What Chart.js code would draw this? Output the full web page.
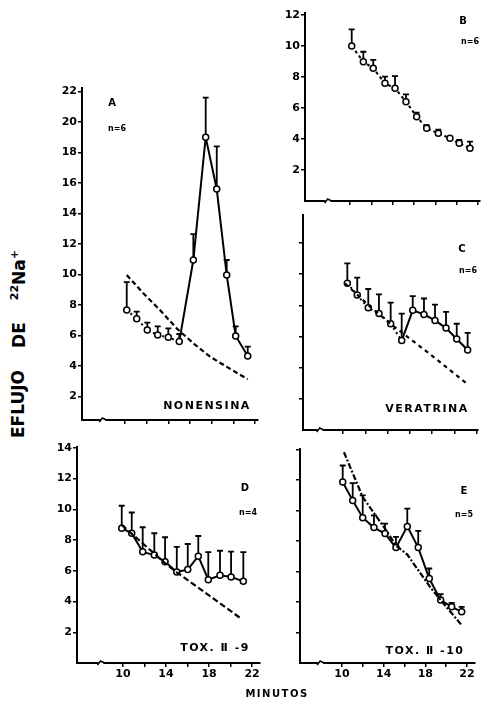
<!DOCTYPE html>
<html>
<head>
<meta charset="utf-8">
<script src="https://cdn.jsdelivr.net/npm/chart.js@4.4.1/dist/chart.umd.min.js"></script>
<style>
  body { margin: 0; background: #fff; }
  #wrap { position: relative; width: 486px; height: 701px; overflow: hidden; background: #fff; }
  canvas { position: absolute; }
  .lbl { position: absolute; font-family: "DejaVu Sans", sans-serif; font-weight: bold; color: #000;
         transform: translate(-50%, -50%); white-space: nowrap; }
  .big { font-size: 11px; letter-spacing: 1.5px; }
  .small { font-size: 8px; }
  #ytitle { position: absolute; left: 18px; top: 344px; transform: translate(-50%, -50%) rotate(-90deg);
            font-family: "DejaVu Sans", sans-serif; font-weight: bold; font-size: 17px; white-space: nowrap; }
  #ytitle sup { font-size: 11px; }
</style>
</head>
<body>
<div id="wrap">
  <canvas id="cA"></canvas>
  <canvas id="cB"></canvas>
  <canvas id="cC"></canvas>
  <canvas id="cD"></canvas>
  <canvas id="cE"></canvas>

  <div class="lbl" style="left:112px;top:102px;font-size:10px">A</div>
  <div class="lbl small" style="left:117px;top:128px">n=6</div>
  <div class="lbl big" style="left:207px;top:405px">NONENSINA</div>

  <div class="lbl" style="left:463px;top:20px;font-size:10px">B</div>
  <div class="lbl small" style="left:470px;top:41px">n=6</div>

  <div class="lbl" style="left:462px;top:248px;font-size:10px">C</div>
  <div class="lbl small" style="left:468px;top:270px">n=6</div>
  <div class="lbl big" style="left:427px;top:408px">VERATRINA</div>

  <div class="lbl" style="left:245px;top:487px;font-size:10px">D</div>
  <div class="lbl small" style="left:248px;top:512px">n=4</div>
  <div class="lbl big" style="left:215px;top:647px">TOX. &#8545; -9</div>

  <div class="lbl" style="left:464px;top:490px;font-size:10px">E</div>
  <div class="lbl small" style="left:464px;top:514px">n=5</div>
  <div class="lbl big" style="left:425px;top:650px">TOX. &#8545; -10</div>

  <div class="lbl big" style="left:277px;top:693px;font-size:10px">MINUTOS</div>
  <div id="ytitle"><span>EFLUJO</span><span style="margin-left:22px">DE</span><span style="margin-left:22px"><sup>22</sup>Na<sup>+</sup></span></div>
</div>
<script>
// tick labels shown under the bottom panels
const xTickLabels = [10, 14, 18, 22];

// A - monensina
const minutesA = [10.16, 11.08, 12.06, 13.02, 14.0, 15.01, 16.31, 17.45, 18.47, 19.39, 20.22, 21.33];
const effluxA = [7.67, 7.1, 6.36, 6.03, 5.88, 5.6, 10.95, 19.0, 15.6, 9.97, 5.97, 4.66];
const errTopA = [9.5, 7.56, 6.84, 6.6, 6.47, 6.1, 12.65, 21.6, 18.4, 10.95, 6.6, 5.27];
const controlMinA = [10.16, 11.69, 13.23, 14.77, 16.31, 17.85, 19.39, 21.33];
const controlA = [9.97, 8.77, 7.67, 6.47, 5.49, 4.61, 3.95, 3.13];

// B - control
const minutesB = [10.16, 11.25, 12.18, 13.28, 14.22, 15.25, 16.25, 17.19, 18.28, 19.37, 20.24, 21.25];
const effluxB = [10.0, 8.99, 8.56, 7.59, 7.27, 6.41, 5.44, 4.69, 4.37, 4.05, 3.72, 3.4];
const errTopB = [11.07, 9.63, 9.1, 8.02, 8.06, 6.88, 5.7, 4.9, 4.6, 4.2, 3.95, 3.83];

// C - veratrina
const minutesC = [10.39, 11.28, 12.27, 13.23, 14.28, 15.27, 16.26, 17.27, 18.26, 19.25, 20.21, 21.19];
const effluxC = [9.42, 8.66, 7.84, 7.47, 6.82, 5.74, 7.68, 7.42, 7.03, 6.54, 5.84, 5.13];
const errTopC = [10.7, 9.78, 9.05, 8.7, 8.18, 7.47, 8.59, 8.44, 8.05, 7.58, 6.82, 6.23];
const controlMinC = [10.2, 12.3, 14.3, 16.3, 18.3, 21.25];
const controlC = [9.4, 8.0, 6.8, 5.7, 4.6, 2.9];

// D - tox. II-9
const minutesD = [9.88, 10.81, 11.83, 12.91, 13.91, 15.0, 16.02, 17.0, 17.93, 19.02, 20.05, 21.19];
const effluxD = [8.77, 8.44, 7.23, 7.02, 6.58, 5.92, 6.08, 6.95, 5.42, 5.7, 5.6, 5.31];
const errTopD = [10.23, 9.79, 8.83, 8.44, 8.18, 7.56, 7.74, 8.26, 7.21, 7.3, 7.24, 7.21];
const controlMinD = [9.88, 13.91, 15.0, 21.04];
const controlD = [8.98, 6.5, 5.9, 2.86];

// E - tox. II-10
const minutesE = [10.07, 11.03, 11.99, 13.07, 14.13, 15.18, 16.27, 17.32, 18.38, 19.47, 20.53, 21.49];
const effluxE = [11.85, 10.65, 9.52, 8.87, 8.48, 7.56, 8.95, 7.56, 5.53, 4.12, 3.68, 3.35];
const errTopE = [12.94, 11.79, 10.98, 9.67, 9.13, 8.26, 10.11, 8.65, 6.19, 4.51, 3.94, 3.68];
const controlMinE = [10.19, 11.99, 14.13, 15.18, 16.27, 18.45, 19.47, 21.49];
const controlE = [13.81, 10.87, 8.8, 7.7, 7.1, 4.99, 4.12, 2.48];

const pts = (xs, ys) => xs.map((x, i) => ({ x: x, y: ys[i] }));

const errorBars = {
  id: 'errorBars',
  beforeDatasetsDraw(chart) {
    const ctx = chart.ctx;
    const ys = chart.scales.y;
    chart.data.datasets.forEach((ds, i) => {
      if (!ds.errTop) return;
      const meta = chart.getDatasetMeta(i);
      ctx.save();
      ctx.strokeStyle = '#000';
      ctx.lineWidth = 1.8;
      meta.data.forEach((pt, j) => {
        const top = ds.errTop[j];
        if (top == null || top <= ds.data[j].y + 0.15) return;
        const yt = ys.getPixelForValue(top);
        ctx.beginPath();
        ctx.moveTo(pt.x, pt.y);
        ctx.lineTo(pt.x, yt);
        ctx.moveTo(pt.x - 3, yt);
        ctx.lineTo(pt.x + 3, yt);
        ctx.stroke();
      });
      ctx.restore();
    });
  }
};

const axisBreak = {
  id: 'axisBreak',
  afterDraw(chart) {
    const ctx = chart.ctx;
    const px = chart.scales.x.getPixelForValue(8);
    const y = chart.chartArea.bottom;
    ctx.save();
    ctx.fillStyle = '#fff';
    ctx.fillRect(px - 3, y - 3, 5, 6);
    ctx.strokeStyle = '#000';
    ctx.lineWidth = 1.5;
    ctx.beginPath();
    ctx.moveTo(px - 4, y + 2);
    ctx.lineTo(px - 1, y - 2);
    ctx.lineTo(px + 3, y);
    ctx.stroke();
    ctx.restore();
  }
};

function makePanel(id, box, xr, yr, showY, showX, datasets) {
  const c = document.getElementById(id);
  const padL = 34, padT = 8, padR = 8, xh = 22;
  c.width = box.R - box.L + padL + padR;
  c.height = box.B - box.T + padT + xh;
  c.style.left = (box.L - padL) + 'px';
  c.style.top = (box.T - padT) + 'px';
  const font = { family: 'DejaVu Sans', weight: 'bold', size: 11 };
  return new Chart(c.getContext('2d'), {
    type: 'line',
    data: { datasets: datasets },
    options: {
      responsive: false,
      animation: false,
      devicePixelRatio: 1,
      layout: { autoPadding: false, padding: { top: padT, right: padR, left: 0, bottom: 0 } },
      plugins: { legend: { display: false }, tooltip: { enabled: false } },
      scales: {
        x: {
          type: 'linear',
          min: xr[0], max: xr[1],
          afterFit: s => { s.height = xh; },
          afterBuildTicks: s => { s.ticks = s.ticks.filter(t => t.value >= 10); },
          grid: { drawOnChartArea: false, color: '#000', lineWidth: 1.5, tickLength: 4 },
          border: { color: '#000', width: 2 },
          ticks: {
            stepSize: 2, includeBounds: false, maxRotation: 0, autoSkip: false,
            color: '#000', font: font, padding: 1,
            callback: v => (showX && xTickLabels.includes(v)) ? String(v) : ''
          }
        },
        y: {
          min: yr[0], max: yr[1],
          afterFit: s => { s.width = padL; },
          afterBuildTicks: s => { s.ticks = s.ticks.filter(t => t.value > 0.5); },
          grid: { drawOnChartArea: false, color: '#000', lineWidth: 1.5, tickLength: 4 },
          border: { color: '#000', width: 2 },
          ticks: {
            stepSize: 2, includeBounds: false, autoSkip: false,
            color: '#000', font: font, padding: 1,
            callback: v => showY ? String(v) : ''
          }
        }
      }
    },
    plugins: [errorBars, axisBreak]
  });
}

const markerStyle = {
  borderColor: '#000', borderWidth: 2,
  pointRadius: 3, pointBorderWidth: 1.5,
  pointBackgroundColor: '#fff', pointBorderColor: '#000'
};
const controlStyle = (dash) => ({
  borderColor: '#000', borderWidth: 2.2, borderDash: dash, pointRadius: 0
});
const dotFirst = (n) => ({ borderDash: ctx => ctx.p1DataIndex < n ? [2, 3] : undefined });

makePanel('cA', { L: 82, R: 258, T: 88, B: 420 }, [6.03, 22.28], [0.46, 22.23], true, false, [
  Object.assign({ data: pts(controlMinA, controlA) }, controlStyle([5, 3])),
  Object.assign({ data: pts(minutesA, effluxA), errTop: errTopA, segment: dotFirst(6) }, markerStyle)
]);

makePanel('cB', { L: 305, R: 480, T: 13, B: 201 }, [5.78, 22.19], [0, 12.13], true, false, [
  Object.assign({ data: pts(minutesB, effluxB), errTop: errTopB }, markerStyle, { borderDash: [3, 3] })
]);

makePanel('cC', { L: 303, R: 478, T: 215, B: 430 }, [6.41, 22.12], [0, 13.8], false, false, [
  Object.assign({ data: pts(controlMinC, controlC) }, controlStyle([4, 4])),
  Object.assign({ data: pts(minutesC, effluxC), errTop: errTopC, segment: dotFirst(6) }, markerStyle)
]);

makePanel('cD', { L: 77, R: 260, T: 447, B: 663 }, [5.72, 22.74], [0, 14.05], true, true, [
  Object.assign({ data: pts(controlMinD, controlD) }, controlStyle([6, 3])),
  Object.assign({ data: pts(minutesD, effluxD), errTop: errTopD }, markerStyle)
]);

makePanel('cE', { L: 300, R: 475, T: 449, B: 663 }, [5.97, 22.77], [0, 14.02], false, true, [
  Object.assign({ data: pts(controlMinE, controlE) }, controlStyle([6, 2, 2, 2])),
  Object.assign({ data: pts(minutesE, effluxE), errTop: errTopE }, markerStyle)
]);
</script>
</body>
</html>
